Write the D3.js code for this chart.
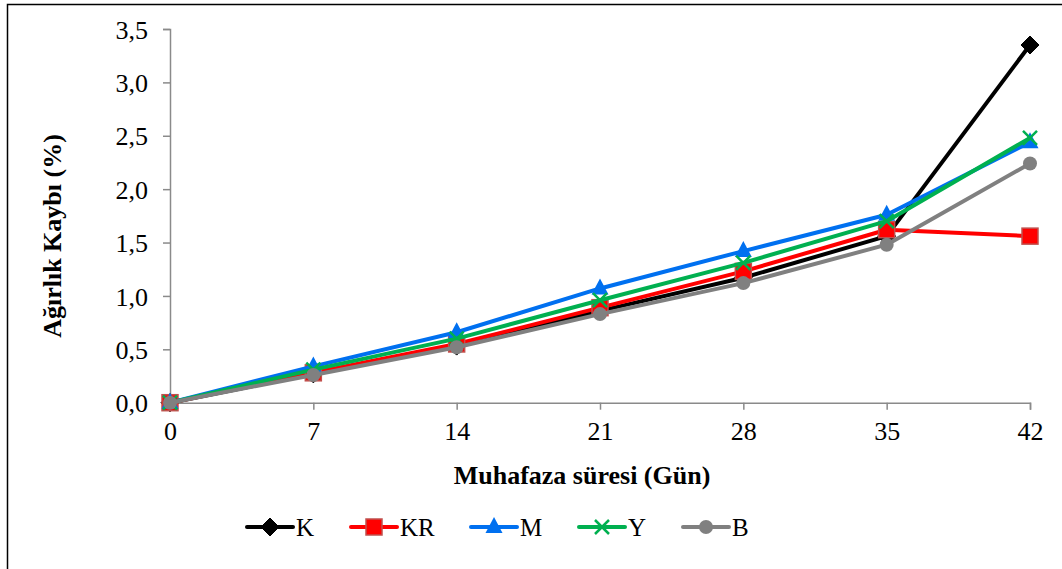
<!DOCTYPE html>
<html><head><meta charset="utf-8">
<script src="https://cdn.jsdelivr.net/npm/d3@7"></script>
<style>body{margin:0;background:#fff}svg{display:block}</style>
</head><body>
<svg id="c" width="1062" height="569"></svg>
<script>
const days = [0, 7, 14, 21, 28, 35, 42];
const seriesNames = ["K", "KR", "M", "Y", "B"];
const K  = [0, 0.27, 0.53, 0.86, 1.17, 1.56, 3.35];
const KR = [0, 0.28, 0.55, 0.89, 1.23, 1.62, 1.56];
const M  = [0, 0.34, 0.66, 1.07, 1.42, 1.76, 2.44];
const Y  = [0, 0.31, 0.60, 0.96, 1.31, 1.70, 2.48];
const B  = [0, 0.26, 0.52, 0.83, 1.12, 1.48, 2.24];
const yTicks = [0, 0.5, 1.0, 1.5, 2.0, 2.5, 3.0, 3.5];
const xLabel = "Muhafaza süresi (Gün)";
const yLabel = "Ağırlık Kaybı (%)";

const colors = {K:"#000000", KR:"#FF0000", M:"#0070F0", Y:"#00B050", B:"#808080"};
const shapes = {K:"diamond", KR:"square", M:"triangle", Y:"x", B:"circle"};
const dataMap = {K, KR, M, Y, B};

const svg = d3.select("#c");
const font = "'Liberation Serif','Times New Roman',serif";
const axisColor = "#8a8a8a";

svg.append("rect").attr("x",7.5).attr("y",4.5).attr("width",1200).attr("height",700)
  .attr("fill","none").attr("stroke","#000").attr("stroke-width",1.5);

const x = d3.scaleLinear().domain([0,42]).range([170,1030]);
const y = d3.scaleLinear().domain([0,3.5]).range([402.7,29]);

const fmt = v => d3.format(".1f")(v).replace(".", ",");

// y axis
const ya = svg.append("g").attr("transform","translate(170,0)")
  .call(d3.axisLeft(y).tickValues(yTicks).tickFormat(fmt).tickSize(7).tickPadding(15));
ya.select(".domain").attr("stroke",axisColor).attr("stroke-width",1.5);
ya.selectAll(".tick line").attr("stroke",axisColor).attr("stroke-width",1.5);
ya.selectAll("text").attr("font-family",font).attr("font-size",26).attr("fill","#000").attr("dy","0.35em");

// x axis
const xa = svg.append("g").attr("transform","translate(0,402.7)")
  .call(d3.axisBottom(x).tickValues(days).tickFormat(d3.format("d")).tickSize(7).tickPadding(12));
xa.select(".domain").attr("stroke",axisColor).attr("stroke-width",1.5);
xa.selectAll(".tick line").attr("stroke",axisColor).attr("stroke-width",1.5);
xa.selectAll("text").attr("font-family",font).attr("font-size",26).attr("fill","#000");

svg.append("text").attr("x",582).attr("y",484).attr("text-anchor","middle")
  .attr("font-family",font).attr("font-weight","bold").attr("font-size",26).text(xLabel);
svg.append("text").attr("transform","translate(61,236) rotate(-90)").attr("text-anchor","middle")
  .attr("font-family",font).attr("font-weight","bold").attr("font-size",26).text(yLabel);

function drawMarker(g, name, cx, cy) {
  const c = colors[name];
  const s = shapes[name];
  if (s === "diamond") {
    g.append("path").attr("d",`M${cx},${cy-9}L${cx+9},${cy}L${cx},${cy+9}L${cx-9},${cy}Z`)
      .attr("fill",c).attr("stroke",c).attr("stroke-width",1).attr("stroke-linejoin","round");
  } else if (s === "square") {
    g.append("rect").attr("x",cx-8).attr("y",cy-8).attr("width",16).attr("height",16)
      .attr("fill",c).attr("stroke","#C0504D").attr("stroke-width",1.5);
  } else if (s === "triangle") {
    g.append("path").attr("d",`M${cx},${cy-10}L${cx+8.5},${cy+6}L${cx-8.5},${cy+6}Z`)
      .attr("fill",c);
  } else if (s === "x") {
    g.append("path").attr("d",`M${cx-7},${cy-7}L${cx+7},${cy+7}M${cx-7},${cy+7}L${cx+7},${cy-7}`)
      .attr("stroke",c).attr("stroke-width",2.5);
  } else {
    g.append("circle").attr("cx",cx).attr("cy",cy).attr("r",7).attr("fill",c);
  }
}

const line = d3.line().x((d,i)=>x(days[i])).y(d=>y(d));
seriesNames.forEach(name => {
  const g = svg.append("g");
  const vals = dataMap[name];
  g.append("path").attr("d", line(vals)).attr("fill","none")
    .attr("stroke",colors[name]).attr("stroke-width",4).attr("stroke-linejoin","round");
  vals.forEach((v,i)=> drawMarker(g, name, x(days[i]), y(v)));
});

// legend
const legendX = [247, 351, 471, 579, 683];
const legY = 527;
seriesNames.forEach((name,i) => {
  const g = svg.append("g");
  const lx = legendX[i];
  g.append("line").attr("x1",lx).attr("x2",lx+46).attr("y1",legY).attr("y2",legY)
    .attr("stroke",colors[name]).attr("stroke-width",4).attr("stroke-linecap","round");
  drawMarker(g, name, lx+23, legY);
  g.append("text").attr("x",lx+49).attr("y",legY+9).attr("font-family",font)
    .attr("font-size",25).text(name);
});
</script>
</body></html>
